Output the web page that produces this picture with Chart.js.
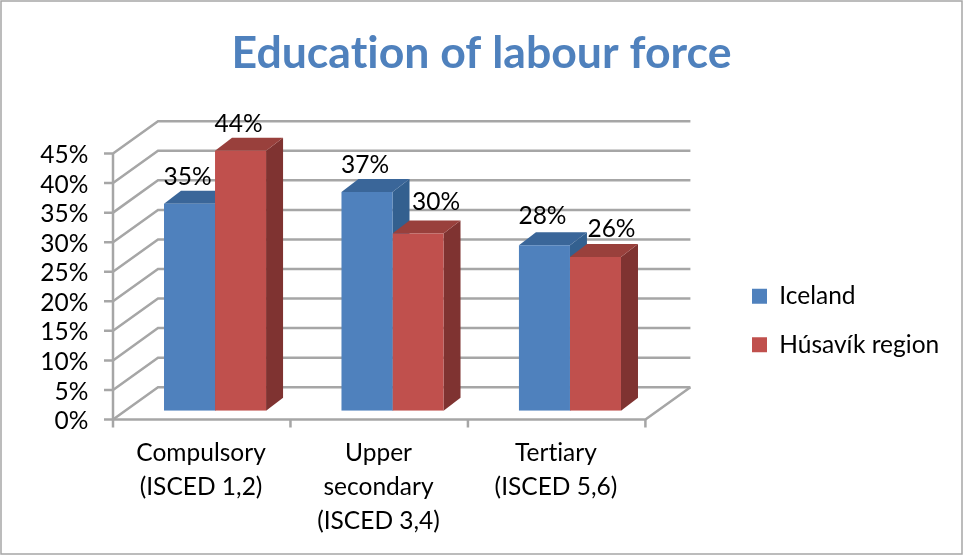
<!DOCTYPE html>
<html><head><meta charset="utf-8">
<style>html,body{margin:0;padding:0;background:#fff}#w{width:963px;height:555px;position:relative}</style>
<script src="https://cdn.jsdelivr.net/npm/chart.js@4"></script></head>
<body><div id="w"><canvas id="c" width="963" height="555"></canvas></div>
<script>
const categories = [['Compulsory','(ISCED 1,2)'],['Upper','secondary','(ISCED 3,4)'],['Tertiary','(ISCED 5,6)']];
const iceland = [35,37,28];
const husavik = [44,30,26];
const seriesNames = ['Iceland','Húsavík region'];
const yTicks = [0,5,10,15,20,25,30,35,40,45];

const FONT = 'Lato, Carlito, sans-serif';
const GRID = '#a6a6a6';
const FACE = [{front:'#4f81bd',top:'#3a6699',side:'#33608f'},{front:'#c0504d',top:'#99403c',side:'#7f3331'}];
const labelShift = [[[-2,-27],[-2,-27],[-2,-29]],[[-2,-27],[18,-31],[16,-28]]];

const scene = {
  id:'scene',
  afterLayout(chart){
    const l = chart.legend;
    l.left = 728; l.right = 963; l.top = 260; l.bottom = 545;
    const t = chart.titleBlock;
    t.left = 0; t.right = 963; t.width = 963;
  },
  beforeDraw(chart){
    const {ctx} = chart;
    ctx.letterSpacing = '0.01px';
    ctx.save();
    ctx.strokeStyle = '#a6a6a6'; ctx.lineWidth = 1.5;
    ctx.strokeRect(1,1,961,553);
    ctx.restore();
  },
  beforeDatasetsDraw(chart){
    const {ctx, scales:{x,y}} = chart;
    const fx = -13.3, fy = 8.8, bx = 31.7, by = -23.5;
    const L = x.getPixelForValue(-0.5), R = x.getPixelForValue(2.5);
    ctx.save();
    ctx.strokeStyle = GRID; ctx.lineWidth = 2.5; ctx.lineJoin='miter'; ctx.lineCap='butt';
    const line = pts => { ctx.beginPath(); pts.forEach((p,i)=> i?ctx.lineTo(p[0],p[1]):ctx.moveTo(p[0],p[1])); ctx.stroke(); };
    yTicks.forEach(v=>{
      const p = y.getPixelForValue(v);
      line([[L+fx-9,p+fy],[L+fx,p+fy],[L+bx,p+by],[R+bx,p+by]]);
    });
    const y0 = y.getPixelForValue(0), yT = y.getPixelForValue(45);
    line([[L+fx,yT+fy],[L+fx,y0+fy+8]]);
    line([[L+fx,y0+fy],[R+fx,y0+fy],[R+bx,y0+by]]);
    for(let i=1;i<=3;i++){ const p = x.getPixelForValue(i-0.5)+fx; line([[p,y0+fy],[p,y0+fy+8]]); }
    // depth faces of the columns
    const dx = 17, dy = 13;
    categories.forEach((_,i)=>{
      [0,1].forEach(d=>{
        const b = chart.getDatasetMeta(d).data[i];
        const l = b.x-b.width/2, r = b.x+b.width/2, t = b.y, u = b.base;
        ctx.fillStyle = FACE[d].side;
        ctx.beginPath(); ctx.moveTo(r,t); ctx.lineTo(r+dx,t-dy); ctx.lineTo(r+dx,u-dy); ctx.lineTo(r,u); ctx.closePath(); ctx.fill();
        ctx.fillStyle = FACE[d].top;
        ctx.beginPath(); ctx.moveTo(l,t); ctx.lineTo(l+dx,t-dy); ctx.lineTo(r+dx,t-dy); ctx.lineTo(r,t); ctx.closePath(); ctx.fill();
      });
    });
    ctx.restore();
  },
  afterDatasetsDraw(chart){
    const {ctx} = chart;
    ctx.save();
    ctx.font = '24.5px '+FONT; ctx.fillStyle = '#000'; ctx.textAlign='center'; ctx.textBaseline='middle';
    chart.data.datasets.forEach((ds,d)=>{
      chart.getDatasetMeta(d).data.forEach((b,i)=>{
        const s = labelShift[d][i];
        ctx.fillText(ds.data[i]+'%', b.x+s[0], b.y+s[1]);
      });
    });
    ctx.restore();
  }
};

new Chart(document.getElementById('c'),{
  type:'bar',
  data:{labels:categories,datasets:[
    {label:seriesNames[0],data:iceland,backgroundColor:FACE[0].front,borderWidth:0},
    {label:seriesNames[1],data:husavik,backgroundColor:FACE[1].front,borderWidth:0}
  ]},
  options:{
    responsive:false,animation:false,
    layout:{padding:{left:0,right:304.3,top:0,bottom:0}},
    datasets:{bar:{barPercentage:1,categoryPercentage:0.575}},
    plugins:{
      title:{display:true,text:'Education of labour force',color:'#4f81bd',
        font:{family:FONT,size:44.6,weight:'bold',lineHeight:1.2},
        padding:{top:27,bottom:64.2}},
      legend:{display:true,position:'chartArea',align:'start',
        labels:{boxWidth:15,boxHeight:15,padding:24,color:'#000',font:{family:FONT,size:24.5}}},
      tooltip:{enabled:false}
    },
    scales:{
      x:{grid:{display:false},border:{display:false},
        afterFit(s){s.height=144.3;},
        ticks:{color:'#000',padding:17,labelOffset:-14,autoSkip:false,maxRotation:0,
          font:{family:FONT,size:24.5,lineHeight:1.39}}},
      y:{min:0,max:45,grid:{display:false},border:{display:false},
        afterFit(s){s.width=126.3;},
        ticks:{color:'#000',padding:30,stepSize:5,labelOffset:10.5,autoSkip:false,
          callback:v=>v+'%',
          font:{family:FONT,size:24.5}}}
    }
  },
  plugins:[scene]
});
</script></body></html>
